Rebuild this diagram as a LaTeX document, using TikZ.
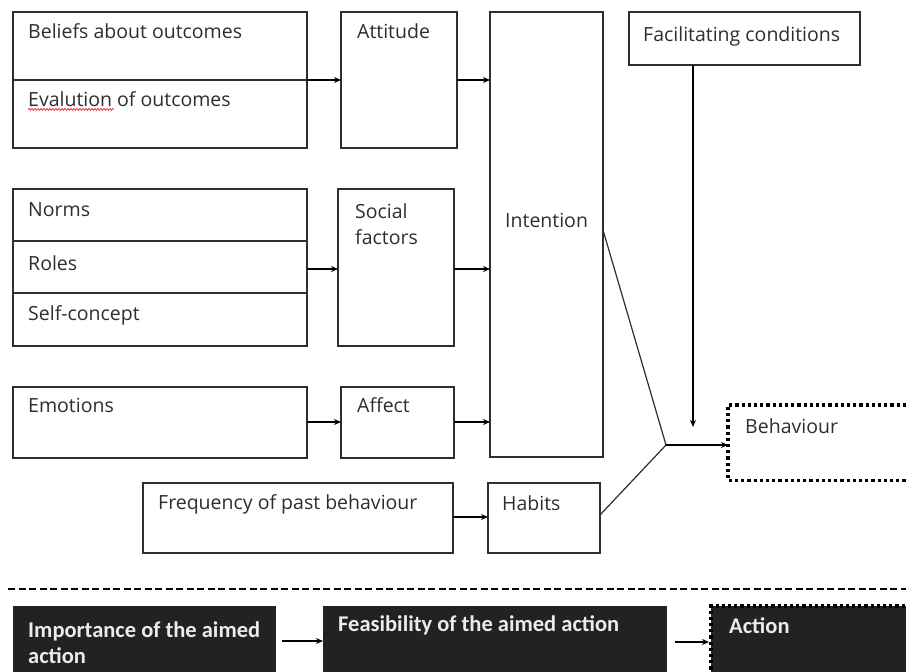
\documentclass[tikz,border=0pt]{standalone}
\usepackage{fontspec}
\setmainfont{Open Sans}
\newfontfamily\boldcond{Carlito}
\usetikzlibrary{arrows.meta,decorations.pathmorphing}
\definecolor{ink}{HTML}{2E2E2E}
\definecolor{darkfill}{HTML}{222222}
\tikzset{
  box/.style={draw=ink, line width=1.4pt, fill=white, anchor=north west, inner sep=0pt, outer sep=0pt},
  darkbox/.style={fill=darkfill, anchor=north west, inner sep=0pt, outer sep=0pt},
  txt/.style={anchor=base west, inner sep=0pt, font=\fontsize{19.5}{23}\selectfont, text=ink},
  wtxt/.style={anchor=base west, inner sep=0pt, font=\boldcond\bfseries\fontsize{22.5}{26}\selectfont, text=white!92!black},
  arr/.style={draw=black, line width=1.3pt, -{Stealth[length=7pt,width=6pt]}},
  conn/.style={draw=ink, line width=1.2pt},
  dotline/.style={line width=3.4pt, dash pattern=on 3.2pt off 3pt}
}
\begin{document}
\begin{tikzpicture}[x=1pt,y=-1pt]
\useasboundingbox (0,0) rectangle (906,672);
\clip (0,0) rectangle (906,672);
\fill[white] (0,0) rectangle (906,672);
% row 1
\node[box, minimum width=294pt, minimum height=136pt] (bel) at (13,12) {};
\draw[conn] (bel.west) -- (bel.east);
\node[box, minimum width=116pt, minimum height=136pt] (att) at (341,12) {};
\node[box, minimum width=113pt, minimum height=445pt] (int) at (490,12) {};
\node[box, minimum width=231pt, minimum height=53pt] (fac) at (629,12) {};
\node[txt] (tbel) at (28,38) {Beliefs about outcomes};
\node[txt] (teva) at (28,106) {Evalution of outcomes};
\draw[red, line width=0.6pt, decorate, decoration={snake, amplitude=0.9pt, segment length=3pt}] (teva.south west) ++(0,3) -- ++(86,0) coordinate (sqend);
\node[txt] (tatt) at (357,38) {Attitude};
\node[txt] (tfac) at (643,41) {Facilitating conditions};
\node[txt] (tint) at (505,227) {Intention};
% row 2
\node[box, minimum width=294pt, minimum height=157pt] (nrm) at (13,189) {};
\draw[conn] (13,241) -- (307,241);
\draw[conn] (13,293) -- (307,293);
\node[box, minimum width=116pt, minimum height=157pt] (soc) at (338,189) {};
\node[txt] (tnrm) at (28,216) {Norms};
\node[txt] (trol) at (28,270) {Roles};
\node[txt] (tslf) at (28,320) {Self-concept};
\node[txt] (tsoc1) at (355,218) {Social};
\node[txt] (tsoc2) at (355,244) {factors};
% row 3
\node[box, minimum width=294pt, minimum height=71pt] (emo) at (13,387) {};
\node[box, minimum width=113pt, minimum height=71pt] (aff) at (341,387) {};
\node[txt] (temo) at (28,412) {Emotions};
\node[txt] (taff) at (357,412) {Affect};
% row 4
\node[box, minimum width=310pt, minimum height=70pt] (frq) at (143,483) {};
\node[box, minimum width=112pt, minimum height=70pt] (hab) at (488,483) {};
\node[txt] (tfrq) at (158,509) {Frequency of past behaviour};
\node[txt] (thab) at (502,510) {Habits};
% behaviour
\node[anchor=north west, minimum width=190pt, minimum height=75pt, inner sep=0pt] (beh) at (728,405) {};
\draw[dotline, black] (beh.north east) -- (beh.north west) -- (beh.south west) -- (beh.south east);
\node[txt] (tbeh) at (745,433) {Behaviour};
% connectors
\draw[arr] (bel.east) -- (att.west);
\draw[arr] (att.east) -- (att.east -| int.west);
\draw[arr] (nrm.east |- 0,269) -- (soc.west |- 0,269);
\draw[arr] (soc.east |- 0,269) -- (int.west |- 0,269);
\draw[arr] (emo.east |- 0,422) -- (aff.west |- 0,422);
\draw[arr] (aff.east |- 0,422) -- (int.west |- 0,422);
\draw[arr] (frq.east |- 0,517) -- (hab.west |- 0,517);
\coordinate (jn) at (666,445);
\coordinate (facin) at (693,427);
\draw[conn] (int.east |- 0,230) -- (jn);
\draw[conn] (hab.east |- 0,515) -- (jn);
\draw[arr] (fac.south -| facin) -- (facin);
\draw[arr] (jn) -- (jn -| beh.west);
% separator
\draw[black, line width=2pt, dash pattern=on 7pt off 3.5pt] (8,589) -- (906,589);
% bottom row
\node[darkbox, minimum width=263pt, minimum height=80pt] (imp) at (13,606) {};
\node[darkbox, minimum width=344pt, minimum height=80pt] (fea) at (323,606) {};
\node[darkbox, minimum width=200pt, minimum height=80pt] (act) at (711,606) {};
\draw[dotline, black] (act.north east) -- (act.north west) -- (act.south west);
\node[wtxt] (timp1) at (28,637) {Importance of the aimed};
\node[wtxt] (timp2) at (28,663) {action};
\node[wtxt] (tfea) at (338,631) {Feasibility of the aimed action};
\node[wtxt] (tact) at (729,633) {Action};
\draw[arr] ([xshift=6pt]imp.east |- 0,641) -- (fea.west |- 0,641);
\draw[arr] ([xshift=8pt]fea.east |- 0,642) -- ([xshift=-2pt]act.west |- 0,642);
\end{tikzpicture}
\end{document}
